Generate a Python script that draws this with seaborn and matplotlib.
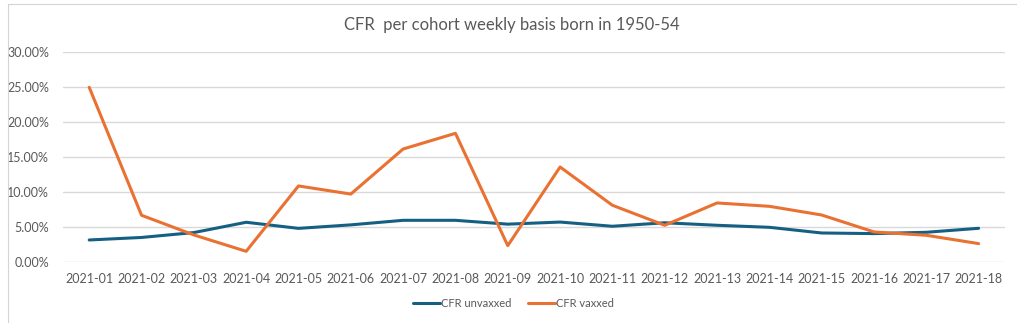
import matplotlib
matplotlib.use("Agg")
import matplotlib.pyplot as plt
import seaborn as sns
import pandas as pd
from matplotlib.lines import Line2D
from matplotlib.ticker import PercentFormatter

weeks = ["2021-01", "2021-02", "2021-03", "2021-04", "2021-05", "2021-06",
         "2021-07", "2021-08", "2021-09", "2021-10", "2021-11", "2021-12",
         "2021-13", "2021-14", "2021-15", "2021-16", "2021-17", "2021-18"]
cfr_unvaxxed = [3.14, 3.5, 4.2, 5.67, 4.8, 5.3, 5.95, 5.95, 5.4, 5.7, 5.1, 5.6,
                5.24, 4.95, 4.14, 4.05, 4.24, 4.81]
cfr_vaxxed = [24.95, 6.67, 3.86, 1.52, 10.86, 9.7, 16.14, 18.38, 2.33, 13.57,
              8.1, 5.24, 8.43, 7.95, 6.71, 4.29, 3.81, 2.62]
series_names = ["CFR unvaxxed", "CFR vaxxed"]
colors = ["#156082", "#E97132"]
title = "CFR  per cohort weekly basis born in 1950-54"

df = pd.DataFrame({
    "week": weeks * 2,
    "pos": list(range(len(weeks))) * 2,
    "value": cfr_unvaxxed + cfr_vaxxed,
    "series": [series_names[0]] * len(weeks) + [series_names[1]] * len(weeks),
})

sns.set_theme(style="white")
plt.rcParams["font.family"] = ["Lato", "DejaVu Sans"]
text_color = "#595959"

fig = plt.figure(figsize=(10.17, 3.23), dpi=100)
ax = fig.add_axes([0.062, 0.189, 0.926, 0.650])

sns.lineplot(data=df, x="pos", y="value", hue="series", palette=colors,
             linewidth=2.2, ax=ax, legend=False, sort=False)

ax.set_xlim(-0.5, len(weeks) - 0.5)
ax.set_ylim(0, 30)
ax.set_yticks([0, 5, 10, 15, 20, 25, 30])
ax.yaxis.set_major_formatter(PercentFormatter(decimals=2))
ax.set_xticks(range(len(weeks)))
ax.set_xticklabels(weeks)
ax.grid(axis="y", color="#D9D9D9", linewidth=1)
ax.set_axisbelow(True)
for s in ax.spines.values():
    s.set_visible(False)
ax.tick_params(axis="both", length=0, labelsize=9, colors=text_color)
ax.tick_params(axis="y", pad=10)
ax.tick_params(axis="x", pad=8)
ax.set_xlabel("")
ax.set_ylabel("")

fig.text(0.503, 0.922, title, ha="center", va="center", fontsize=12, color=text_color)

handles = [Line2D([0], [0], color=c, lw=2.2) for c in colors]
fig.legend(handles, series_names, loc="center", bbox_to_anchor=(0.505, 0.06),
           ncol=2, frameon=False, fontsize=8, labelcolor=text_color,
           handlelength=2.4, handletextpad=0.1, columnspacing=1.5)

# spreadsheet cell borders around the chart object
fig.add_artist(Line2D([0.0075, 1], [0.989, 0.989], color="#D4D4D4", lw=0.8, transform=fig.transFigure))
fig.add_artist(Line2D([0.0075, 0.0075], [0, 0.989], color="#D4D4D4", lw=0.8, transform=fig.transFigure))

fig.savefig("out.png", dpi=100)
